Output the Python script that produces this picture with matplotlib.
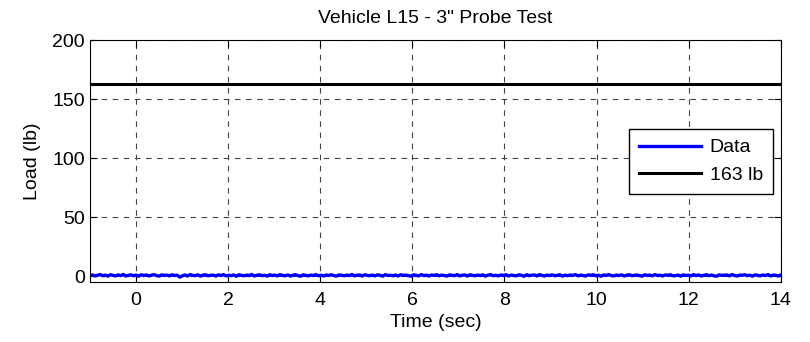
import matplotlib
matplotlib.use('Agg')
import matplotlib.pyplot as plt
import numpy as np

plt.rcParams['font.family'] = ['Liberation Sans', 'DejaVu Sans']

# load samples (lb), evenly spaced from -1 to 14 s
load = [0.6, 1.2, 0.2, 0.9, 1.4, 0.4, 1.0, 0.1, 1.3, 0.7, 0.3, 1.1, 0.5, 1.5, 0.2,
        0.8, 1.2, 0.4, 1.0, 0.0, 1.3, 0.6, 1.1, 0.3, 0.9, 1.4, 0.5, 0.1, 1.2, 0.7,
        1.0, 0.3, 1.3, 0.6, 0.9, -0.8, 0.4, 1.1, 0.2, 1.4, 0.7, 0.5, 1.2, 0.1, 0.9,
        1.3, 0.4, 0.8, 1.0, 0.2, 1.2, 0.6, 1.4, 0.3, 0.9, 0.5, 1.1, 0.0, 1.3, 0.7,
        0.4, 1.0, 0.6, 1.5, 0.2, 0.9, 1.2, 0.5, 0.8, 0.1, 1.3, 0.6, 1.0, 0.3, 1.4,
        0.7, 0.4, 1.1, 0.2, 0.9, 1.3, 0.5, 0.0, 1.2, 0.8, 0.3, 1.0, 0.6, 1.4, 0.4,
        0.9, 0.2, 1.1, 0.7, 1.3, 0.5, 0.1, 1.2, 0.8, 0.4, 1.0, 0.6, 1.5, 0.3, 0.9,
        1.1, 0.2, 1.3, 0.7, 0.5, 1.0, 0.3, 1.2, 0.8, 0.1, 1.4, 0.6, 0.9, 0.4, 1.1,
        0.2, 1.3, 0.7, 1.0, 0.5, 0.0, 1.2, 0.8, 0.3, 1.4, 0.6, 0.9, 0.2, 1.1, 0.7,
        1.3, 0.4, 1.0, 0.6, 0.1, 1.2, 0.8, 0.5, 1.4, 0.3, 0.9, 1.1, 0.2, 1.3, 0.7,
        0.4, 1.0, 0.6, 1.2, 0.1, 0.9, 1.4, 0.5, 0.8, 0.3, 1.1, 0.7, 1.3, 0.2, 1.0,
        0.6, 0.4, 1.2, 0.8, 0.0, 1.3, 0.5, 0.9, 1.1, 0.3, 1.4, 0.7, 0.2, 1.0, 0.6,
        1.2, 0.4, 0.8, 1.3, 0.1, 0.9, 0.5, 1.1, 0.7, 1.4, 0.3, 1.0, 0.6, 0.2, 1.2,
        0.8, 1.3, 0.4, 0.9, 0.0, 1.1, 0.7, 1.4, 0.5, 0.3, 1.0, 0.6, 1.2, 0.2, 0.9,
        1.3, 0.4, 0.8, 1.1, 0.5, 0.1, 1.2, 0.7, 1.0, 0.3, 1.4, 0.6, 0.9, 0.2, 1.1,
        0.8, 1.3, 0.4, 0.5, 1.0, 0.1, 1.2, 0.7, 0.9, 0.3, 1.4, 0.6, 1.1, 0.2, 0.8,
        1.3, 0.5, 1.0, 0.4, 0.0, 1.2, 0.7, 0.9, 1.1, 0.3, 1.4, 0.6, 0.2, 1.0, 0.8,
        1.3, 0.5, 0.9, 0.1, 1.2, 0.7, 0.4, 1.1, 0.6, 1.4, 0.3, 1.0, 0.8, 0.2, 1.2]
t_start, t_end = -1, 14
limit = 163

xticks = [0, 2, 4, 6, 8, 10, 12, 14]
yticks = [0, 50, 100, 150, 200]

time = np.linspace(t_start, t_end, len(load))

fig = plt.figure(figsize=(8.1, 3.42), dpi=100)
ax = fig.add_axes([0.111, 0.175, 0.853, 0.708])

ax.plot(time, load, color='#0000ff', lw=2.4, label='Data')
ax.plot([t_start, t_end], [limit, limit], color='black', lw=2.2, label='163 lb')

ax.set_xlim(t_start, t_end)
ax.set_ylim(-5, 200)
ax.set_xticks(xticks)
ax.set_yticks(yticks)
ax.tick_params(direction='in', top=True, right=True, labelsize=14, length=5)
ax.tick_params(axis='x', pad=7)
ax.grid(True, linestyle=(0, (5, 5)), color='#444444', lw=0.8)

ax.set_title('Vehicle L15 - 3" Probe Test', fontsize=14, pad=12)
ax.set_xlabel('Time (sec)', fontsize=14, labelpad=4)
ax.set_ylabel('Load (lb)', fontsize=14, labelpad=8)

leg = ax.legend(loc='upper right', bbox_to_anchor=(0.988, 0.632), fontsize=14,
                fancybox=False, framealpha=1, edgecolor='black',
                borderaxespad=0, handlelength=3.2, handletextpad=0.45,
                borderpad=0.5, labelspacing=0.5)
leg.get_frame().set_linewidth(1)

plt.savefig('out.png', dpi=100)
